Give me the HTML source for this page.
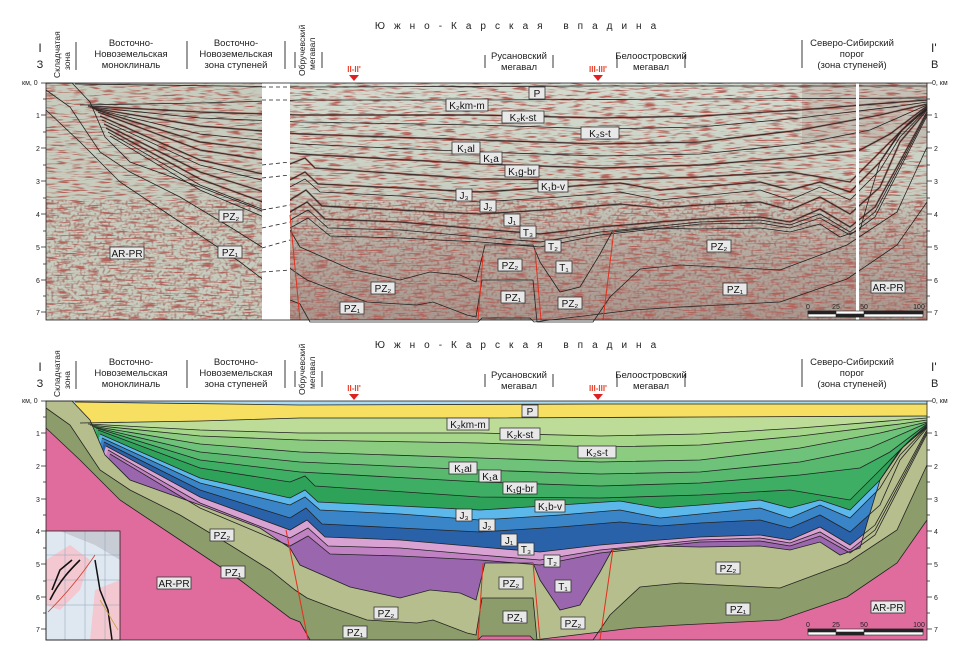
<!DOCTYPE html>
<html><head><meta charset="utf-8"><style>
html,body{margin:0;padding:0;background:#fff;}
svg{display:block;font-family:"Liberation Sans",sans-serif;}
.h{font-size:10.5px;fill:#222;text-anchor:middle;}
.t{font-size:9.5px;fill:#222;}
.ax{font-size:7px;fill:#222;}
.lb rect{fill:#e8e8e8;stroke:#333;stroke-width:0.8;}
.lb text{font-size:10px;fill:#111;text-anchor:middle;}
.bl{fill:none;stroke:#222;stroke-width:0.8;}
</style></head><body>
<svg width="964" height="648" viewBox="0 0 964 648" xmlns="http://www.w3.org/2000/svg">
<defs>
<filter id="noise" x="0" y="0" width="100%" height="100%">
<feTurbulence type="fractalNoise" baseFrequency="0.07 0.6" numOctaves="2" seed="4"/>
<feColorMatrix values="0 0 0 0 0.45  0 0 0 0 0.12  0 0 0 0 0.1  4.5 0 0 0 -2.25"/>
</filter>
<filter id="noise2" x="0" y="0" width="100%" height="100%">
<feTurbulence type="fractalNoise" baseFrequency="0.35 0.35" numOctaves="1" seed="9"/>
<feColorMatrix values="0 0 0 0 0.35  0 0 0 0 0.15  0 0 0 0 0.13  4 0 0 0 -2"/>
</filter>
<linearGradient id="sg" x1="0" y1="0" x2="0" y2="1">
<stop offset="0" stop-color="#d3dbd0"/><stop offset="0.45" stop-color="#c8cfc2"/><stop offset="0.7" stop-color="#b4aca2"/><stop offset="1" stop-color="#a8988f"/>
</linearGradient>
<path id="bP" d="M75,402 L300,405 L600,404 L927,404"/>
<path id="bKM" d="M80,423 L200,421 L300,418 L480,418 L700,417 L927,416"/>
<path id="bKST" d="M88,424 L200,430 L300,433 L480,433 L600,436 L700,434 L800,428 L900,420 L927,418"/>
<path id="bST" d="M90,425 L200,436 L300,440 L480,443 L600,447 L700,445 L800,436 L900,424 L927,420"/>
<path id="bAL" d="M92,426 L200,444 L300,452 L480,458 L600,462 L700,460 L800,448 L880,433 L927,422"/>
<path id="bA" d="M94,427 L200,452 L300,462 L480,470 L600,474 L700,472 L800,462 L870,448 L927,423"/>
<path id="bGBR" d="M96,428 L200,460 L300,472 L480,482 L600,486 L700,483 L800,475 L860,468 L890,452 L927,424"/>
<path id="bBV" d="M98,430 L200,468 L290,482 L305,476 L315,486 L480,497 L600,498 L700,495 L790,490 L850,500 L880,470 L910,440 L927,425"/>
<path id="bJ3" d="M100,434 L200,478 L290,498 L305,490 L318,502 L400,506 L480,510 L560,505 L620,501 L660,508 L700,505 L760,500 L790,508 L820,500 L850,510 L880,480 L900,450 L927,426"/>
<path id="bJ2" d="M102,438 L200,483 L290,505 L305,497 L320,510 L400,514 L480,520 L560,515 L620,510 L660,518 L700,514 L760,508 L790,518 L820,505 L850,518 L880,488 L900,455 L927,427"/>
<path id="bJ1" d="M104,442 L200,490 L290,518 L306,508 L322,524 L400,528 L480,532 L560,527 L620,522 L660,526 L700,523 L760,520 L790,528 L820,515 L850,532 L880,505 L900,460 L927,428"/>
<path id="bT3" d="M106,446 L200,497 L290,530 L307,520 L325,537 L400,540 L480,547 L540,552 L600,545 L660,540 L700,537 L760,535 L790,540 L820,527 L850,545 L875,525 L927,430"/>
<path id="bT2" d="M108,450 L200,503 L290,538 L308,528 L328,546 L400,548 L480,555 L540,560 L600,550 L700,540 L760,538 L790,543 L820,532 L850,550 L875,530 L927,432"/>
<path id="bT1" d="M110,454 L200,508 L290,546 L308,536 L330,554 L400,556 L480,560 L540,565 L600,553 L700,542 L760,541 L790,546 L820,536 L850,553 L875,535 L927,434"/>
<path id="bPZ2" d="M46,401 L72,401 L90,420 L105,455 L130,480 L200,505 L260,528 L290,548 L300,565 L350,587 L400,598 L430,590 L460,593 L476,600 L485,563 L533,563 L540,580 L560,610 L580,605 L600,572 L612,550 L650,546 L700,547 L760,546 L790,550 L820,542 L840,555 L860,548 L867,523 L880,480 L903,447 L927,427"/>
<path id="bPZ1" d="M46,408 L70,425 L100,470 L130,490 L180,515 L230,545 L270,570 L295,590 L307,598 L333,608 L367,620 L417,623 L433,620 L467,633 L476,635 L482,598 L533,598 L537,640 L593,640 L610,615 L640,587 L680,583 L780,588 L847,563 L897,530 L927,465"/>
<path id="bAR" d="M46,428 L80,460 L120,500 L180,540 L240,580 L290,618 L300,622 L310,640 L478,640 L482,636 L530,636 L534,640 L633,628 L680,625 L780,620 L847,597 L897,563 L927,520"/>
</defs>

<!-- ===== UPPER PANEL ===== -->
<g>
<text x="520" y="29" class="h" style="letter-spacing:9px;font-size:10px">Южно-Карская впадина</text>
<g class="t">
<text x="40" y="52" text-anchor="middle" style="font-size:12px">I</text>
<text x="40" y="68" text-anchor="middle" style="font-size:11px">З</text>
<text transform="translate(60,78) rotate(-90)" style="font-size:8.5px">Складчатая</text>
<text transform="translate(70,70) rotate(-90)" style="font-size:8.5px">зона</text>
<text x="131" y="46" text-anchor="middle">Восточно-</text>
<text x="131" y="57" text-anchor="middle">Новоземельская</text>
<text x="131" y="68" text-anchor="middle">моноклиналь</text>
<text x="236" y="46" text-anchor="middle">Восточно-</text>
<text x="236" y="57" text-anchor="middle">Новоземельская</text>
<text x="236" y="68" text-anchor="middle">зона ступеней</text>
<text transform="translate(305,76) rotate(-90)" style="font-size:8.5px">Обручевский</text>
<text transform="translate(315,70) rotate(-90)" style="font-size:8.5px">мегавал</text>
<text x="519" y="59" text-anchor="middle">Русановский</text>
<text x="519" y="70" text-anchor="middle">мегавал</text>
<text x="651" y="59" text-anchor="middle">Белоостровский</text>
<text x="651" y="70" text-anchor="middle">мегавал</text>
<text x="852" y="46" text-anchor="middle">Северо-Сибирский</text>
<text x="852" y="57" text-anchor="middle">порог</text>
<text x="852" y="68" text-anchor="middle">(зона ступеней)</text>
<text x="931" y="52" style="font-size:12px">I'</text>
<text x="931" y="68" style="font-size:11px">В</text>
</g>
<g stroke="#222" stroke-width="0.9">
<line x1="76" y1="42" x2="76" y2="70"/><line x1="187" y1="41" x2="187" y2="69"/><line x1="285" y1="41" x2="285" y2="69"/>
<line x1="295" y1="52" x2="295" y2="68"/><line x1="322" y1="52" x2="322" y2="68"/>
<line x1="485" y1="55" x2="485" y2="68"/><line x1="553" y1="55" x2="553" y2="68"/>
<line x1="617" y1="55" x2="617" y2="68"/><line x1="685" y1="55" x2="685" y2="68"/><line x1="802" y1="40" x2="802" y2="68"/>
</g>
<text x="354" y="72" style="font-size:8px;fill:#e8402a;font-weight:bold" text-anchor="middle">II-II'</text>
<polygon points="349,75 359,75 354,81" fill="#e02020"/>
<text x="598" y="72" style="font-size:8px;fill:#e8402a;font-weight:bold" text-anchor="middle">III-III'</text>
<polygon points="593,75 603,75 598,81" fill="#e02020"/>

<rect x="46" y="83" width="881" height="237" fill="url(#sg)"/>
<rect x="46" y="83" width="216" height="237" fill="#c6ccbe"/>
<rect x="46" y="83" width="881" height="237" filter="url(#noise)"/>
<rect x="46" y="200" width="881" height="120" filter="url(#noise2)" opacity="0.8"/>
<rect x="802" y="83" width="125" height="60" fill="#a07870" opacity="0.25"/>
<g transform="translate(0,-318)" opacity="0.5" stroke="#7a2a22" stroke-width="2" fill="none">
<use href="#bKST"/><use href="#bAL"/><use href="#bGBR"/><use href="#bBV"/><use href="#bJ3"/><use href="#bJ1"/><use href="#bT3"/>
</g>
<g transform="translate(0,-318)" class="bl">
<use href="#bP"/><use href="#bKM"/><use href="#bKST"/><use href="#bST"/><use href="#bAL"/><use href="#bA"/><use href="#bGBR"/><use href="#bBV"/><use href="#bJ3"/><use href="#bJ2"/><use href="#bJ1"/><use href="#bT3"/><use href="#bT2"/><use href="#bT1"/><use href="#bPZ2"/><use href="#bPZ1"/><use href="#bAR"/>
</g>
<rect x="262" y="83" width="28" height="237" fill="#fff"/>
<rect x="856" y="83" width="3" height="237" fill="#fff"/>
<g stroke="#222" stroke-width="0.8" stroke-dasharray="4,3">
<line x1="262" y1="87" x2="290" y2="87"/><line x1="262" y1="100" x2="290" y2="100"/>
<line x1="262" y1="165" x2="290" y2="162"/><line x1="262" y1="178" x2="290" y2="175"/>
<line x1="262" y1="210" x2="290" y2="205"/><line x1="262" y1="228" x2="290" y2="222"/>
<line x1="262" y1="248" x2="290" y2="240"/><line x1="262" y1="272" x2="290" y2="270"/>
</g>
<g stroke="#e0301e" stroke-width="1">
<line x1="290" y1="215" x2="300" y2="320"/><line x1="483" y1="255" x2="478" y2="320"/>
<line x1="535" y1="250" x2="541" y2="320"/><line x1="614" y1="230" x2="603" y2="320"/>
</g>
<rect x="46" y="83" width="881" height="237" fill="none" stroke="#222" stroke-width="0.8"/>
<g class="lb">
<rect x="529" y="87" width="16" height="12"/><text x="537" y="97">P</text>
<rect x="446" y="99" width="42" height="12"/><text x="467" y="109">K₂km-m</text>
<rect x="502" y="111" width="42" height="12"/><text x="523" y="121">K₂k-st</text>
<rect x="581" y="127" width="38" height="12"/><text x="600" y="137">K₂s-t</text>
<rect x="452" y="142" width="28" height="12"/><text x="466" y="152">K₁al</text>
<rect x="480" y="152" width="22" height="12"/><text x="491" y="162">K₁a</text>
<rect x="505" y="165" width="34" height="12"/><text x="522" y="175">K₁g-br</text>
<rect x="538" y="180" width="30" height="12"/><text x="553" y="190">K₁b-v</text>
<rect x="456" y="189" width="16" height="12"/><text x="464" y="199">J₃</text>
<rect x="480" y="200" width="16" height="12"/><text x="488" y="210">J₂</text>
<rect x="504" y="214" width="16" height="12"/><text x="512" y="224">J₁</text>
<rect x="520" y="226" width="16" height="12"/><text x="528" y="236">T₃</text>
<rect x="545" y="240" width="16" height="12"/><text x="553" y="250">T₂</text>
<rect x="556" y="261" width="16" height="12"/><text x="564" y="271">T₁</text>
<rect x="498" y="259" width="24" height="12"/><text x="510" y="269">PZ₂</text>
<rect x="501" y="291" width="24" height="12"/><text x="513" y="301">PZ₁</text>
<rect x="558" y="297" width="24" height="12"/><text x="570" y="307">PZ₂</text>
<rect x="371" y="282" width="24" height="12"/><text x="383" y="292">PZ₂</text>
<rect x="340" y="302" width="24" height="12"/><text x="352" y="312">PZ₁</text>
<rect x="219" y="210" width="24" height="12"/><text x="231" y="220">PZ₂</text>
<rect x="218" y="246" width="24" height="12"/><text x="230" y="256">PZ₁</text>
<rect x="110" y="247" width="34" height="12"/><text x="127" y="257">AR-PR</text>
<rect x="707" y="240" width="24" height="12"/><text x="719" y="250">PZ₂</text>
<rect x="723" y="283" width="24" height="12"/><text x="735" y="293">PZ₁</text>
<rect x="871" y="281" width="34" height="12"/><text x="888" y="291">AR-PR</text>
</g>
<g fill="#fff" stroke="#222" stroke-width="0.6">
<rect x="808" y="311" width="115" height="6"/><rect x="808" y="311" width="28" height="3" fill="#222"/><rect x="836" y="314" width="28" height="3" fill="#222"/><rect x="864" y="311" width="59" height="3" fill="#222"/>
</g>
<g class="ax"><text x="836" y="309" text-anchor="middle">25</text><text x="864" y="309" text-anchor="middle">50</text><text x="919" y="309" text-anchor="middle">100</text><text x="808" y="309" text-anchor="middle">0</text></g>
</g>

<!-- axes -->
<g class="ax">
<text x="22" y="85">км, 0</text><text x="932" y="85">0, км</text>
<text x="36" y="118">1</text><text x="36" y="151">2</text><text x="36" y="184">3</text><text x="36" y="217">4</text><text x="36" y="250">5</text><text x="36" y="283">6</text><text x="36" y="315">7</text>
<text x="934" y="118">1</text><text x="934" y="151">2</text><text x="934" y="184">3</text><text x="934" y="217">4</text><text x="934" y="250">5</text><text x="934" y="283">6</text><text x="934" y="315">7</text>
<text x="22" y="403">км, 0</text><text x="932" y="403">0, км</text>
<text x="36" y="436">1</text><text x="36" y="469">2</text><text x="36" y="502">3</text><text x="36" y="534">4</text><text x="36" y="567">5</text><text x="36" y="600">6</text><text x="36" y="632">7</text>
<text x="934" y="436">1</text><text x="934" y="469">2</text><text x="934" y="502">3</text><text x="934" y="534">4</text><text x="934" y="567">5</text><text x="934" y="600">6</text><text x="934" y="632">7</text>
</g>
<g stroke="#222" stroke-width="0.8">
<path d="M41,83h5M41,115h5M41,148h5M41,181h5M41,214h5M41,247h5M41,280h5M41,312h5M43,99h3M43,132h3M43,165h3M43,198h3M43,231h3M43,264h3M43,296h3"/>
<path d="M927,83h5M927,115h5M927,148h5M927,181h5M927,214h5M927,247h5M927,280h5M927,312h5M927,99h3M927,132h3M927,165h3M927,198h3M927,231h3M927,264h3M927,296h3"/>
<path d="M41,401h5M41,433h5M41,466h5M41,499h5M41,531h5M41,564h5M41,597h5M41,629h5M43,417h3M43,450h3M43,482h3M43,515h3M43,548h3M43,581h3M43,613h3"/>
<path d="M927,401h5M927,433h5M927,466h5M927,499h5M927,531h5M927,564h5M927,597h5M927,629h5M927,417h3M927,450h3M927,482h3M927,515h3M927,548h3M927,581h3M927,613h3"/>
</g>

<!-- ===== LOWER PANEL ===== -->
<g transform="translate(0,319)">
<text x="520" y="29" class="h" style="letter-spacing:9px;font-size:10px">Южно-Карская впадина</text>
<g class="t">
<text x="40" y="52" text-anchor="middle" style="font-size:12px">I</text>
<text x="40" y="68" text-anchor="middle" style="font-size:11px">З</text>
<text transform="translate(60,78) rotate(-90)" style="font-size:8.5px">Складчатая</text>
<text transform="translate(70,70) rotate(-90)" style="font-size:8.5px">зона</text>
<text x="131" y="46" text-anchor="middle">Восточно-</text>
<text x="131" y="57" text-anchor="middle">Новоземельская</text>
<text x="131" y="68" text-anchor="middle">моноклиналь</text>
<text x="236" y="46" text-anchor="middle">Восточно-</text>
<text x="236" y="57" text-anchor="middle">Новоземельская</text>
<text x="236" y="68" text-anchor="middle">зона ступеней</text>
<text transform="translate(305,76) rotate(-90)" style="font-size:8.5px">Обручевский</text>
<text transform="translate(315,70) rotate(-90)" style="font-size:8.5px">мегавал</text>
<text x="519" y="59" text-anchor="middle">Русановский</text>
<text x="519" y="70" text-anchor="middle">мегавал</text>
<text x="651" y="59" text-anchor="middle">Белоостровский</text>
<text x="651" y="70" text-anchor="middle">мегавал</text>
<text x="852" y="46" text-anchor="middle">Северо-Сибирский</text>
<text x="852" y="57" text-anchor="middle">порог</text>
<text x="852" y="68" text-anchor="middle">(зона ступеней)</text>
<text x="931" y="52" style="font-size:12px">I'</text>
<text x="931" y="68" style="font-size:11px">В</text>
</g>
<g stroke="#222" stroke-width="0.9">
<line x1="76" y1="42" x2="76" y2="70"/><line x1="187" y1="41" x2="187" y2="69"/><line x1="285" y1="41" x2="285" y2="69"/>
<line x1="295" y1="52" x2="295" y2="68"/><line x1="322" y1="52" x2="322" y2="68"/>
<line x1="485" y1="55" x2="485" y2="68"/><line x1="553" y1="55" x2="553" y2="68"/>
<line x1="617" y1="55" x2="617" y2="68"/><line x1="685" y1="55" x2="685" y2="68"/><line x1="802" y1="40" x2="802" y2="68"/>
</g>
<text x="354" y="72" style="font-size:8px;fill:#e8402a;font-weight:bold" text-anchor="middle">II-II'</text>
<polygon points="349,75 359,75 354,81" fill="#e02020"/>
<text x="598" y="72" style="font-size:8px;fill:#e8402a;font-weight:bold" text-anchor="middle">III-III'</text>
<polygon points="593,75 603,75 598,81" fill="#e02020"/>
</g>

<rect x="46" y="401" width="881" height="239" fill="#a8daf2"/>
<g stroke="none">
<path fill="#f7df62" d="M46,640 L75,402 L300,405 L600,404 L927,404 L927,640Z"/>
<path fill="#bcdc98" d="M46,640 L80,423 L200,421 L300,418 L480,418 L700,417 L927,416 L927,640Z"/>
<path fill="#a6d68a" d="M46,640 L88,424 L200,430 L300,433 L480,433 L600,436 L700,434 L800,428 L900,420 L927,418 L927,640Z"/>
<path fill="#8ccc80" d="M46,640 L90,425 L200,436 L300,440 L480,443 L600,447 L700,445 L800,436 L900,424 L927,420 L927,640Z"/>
<path fill="#6fc27a" d="M46,640 L92,426 L200,444 L300,452 L480,458 L600,462 L700,460 L800,448 L880,433 L927,422 L927,640Z"/>
<path fill="#57b86e" d="M46,640 L94,427 L200,452 L300,462 L480,470 L600,474 L700,472 L800,462 L870,448 L927,423 L927,640Z"/>
<path fill="#3eae64" d="M46,640 L96,428 L200,460 L300,472 L480,482 L600,486 L700,483 L800,475 L860,468 L890,452 L927,424 L927,640Z"/>
<path fill="#2fa25a" d="M46,640 L98,430 L200,468 L290,482 L305,476 L315,486 L480,497 L600,498 L700,495 L790,490 L850,500 L880,470 L910,440 L927,425 L927,640Z"/>
<path fill="#5cb8ea" d="M46,640 L100,434 L200,478 L290,498 L305,490 L318,502 L400,506 L480,510 L560,505 L620,501 L660,508 L700,505 L760,500 L790,508 L820,500 L850,510 L880,480 L900,450 L927,426 L927,640Z"/>
<path fill="#3a84c8" d="M46,640 L102,438 L200,483 L290,505 L305,497 L320,510 L400,514 L480,520 L560,515 L620,510 L660,518 L700,514 L760,508 L790,518 L820,505 L850,518 L880,488 L900,455 L927,427 L927,640Z"/>
<path fill="#2a62aa" d="M46,640 L104,442 L200,490 L290,518 L306,508 L322,524 L400,528 L480,532 L560,527 L620,522 L660,526 L700,523 L760,520 L790,528 L820,515 L850,532 L880,505 L900,460 L927,428 L927,640Z"/>
<path fill="#d8a2d2" d="M46,640 L106,446 L200,497 L290,530 L307,520 L325,537 L400,540 L480,547 L540,552 L600,545 L660,540 L700,537 L760,535 L790,540 L820,527 L850,545 L875,525 L927,430 L927,640Z"/>
<path fill="#c082c2" d="M46,640 L108,450 L200,503 L290,538 L308,528 L328,546 L400,548 L480,555 L540,560 L600,550 L700,540 L760,538 L790,543 L820,532 L850,550 L875,530 L927,432 L927,640Z"/>
<path fill="#9a66ae" d="M46,640 L110,454 L200,508 L290,546 L308,536 L330,554 L400,556 L480,560 L540,565 L600,553 L700,542 L760,541 L790,546 L820,536 L850,553 L875,535 L927,434 L927,640Z"/>
<path fill="#b6be8e" d="M46,640 L46,401 L72,401 L90,420 L105,455 L130,480 L200,505 L260,528 L290,548 L300,565 L350,587 L400,598 L430,590 L460,593 L476,600 L485,563 L533,563 L540,580 L560,610 L580,605 L600,572 L612,550 L650,546 L700,547 L760,546 L790,550 L820,542 L840,555 L860,548 L867,523 L880,480 L903,447 L927,427 L927,640Z"/>
<path fill="#8c9c6a" d="M46,640 L46,408 L70,425 L100,470 L130,490 L180,515 L230,545 L270,570 L295,590 L307,598 L333,608 L367,620 L417,623 L433,620 L467,633 L476,635 L482,598 L533,598 L537,640 L593,640 L610,615 L640,587 L680,583 L780,588 L847,563 L897,530 L927,465 L927,640Z"/>
<path fill="#e06c9e" d="M46,640 L46,428 L80,460 L120,500 L180,540 L240,580 L290,618 L300,622 L310,640 L478,640 L482,636 L530,636 L534,640 L633,628 L680,625 L780,620 L847,597 L897,563 L927,520 L927,640Z"/>
</g>
<g class="bl" stroke-width="0.7">
<use href="#bP"/><use href="#bKM"/><use href="#bKST"/><use href="#bST"/><use href="#bAL"/><use href="#bA"/><use href="#bGBR"/><use href="#bBV"/><use href="#bJ3"/><use href="#bJ2"/><use href="#bJ1"/><use href="#bT3"/><use href="#bT2"/><use href="#bT1"/><use href="#bPZ2"/><use href="#bPZ1"/><use href="#bAR"/>
</g>
<g stroke="#e0301e" stroke-width="1">
<line x1="286" y1="530" x2="308" y2="640"/><line x1="483" y1="563" x2="478" y2="640"/>
<line x1="533" y1="563" x2="540" y2="640"/><line x1="613" y1="549" x2="600" y2="640"/>
</g>
<!-- inset map -->
<g>
<rect x="46" y="531" width="74" height="109" fill="#dfe8f0"/>
<path d="M46,560 L70,545 L90,560 L80,590 L60,610 L46,605Z" fill="#f4c8d0"/>
<path d="M95,590 L120,580 L120,640 L90,640Z" fill="#f4c8d0"/>
<path d="M60,531 L120,531 L120,560 L95,545Z" fill="#c8ccd4"/>
<g stroke="#8aa0b8" stroke-width="0.5" fill="none"><path d="M46,555h74M46,580h74M46,605h74M65,531v109M85,531v109M105,531v109"/></g>
<path d="M50,600 C60,580 70,570 80,560 M52,590 L60,570 L72,560" stroke="#111" stroke-width="1.6" fill="none"/>
<path d="M95,560 L100,590 L108,610 L112,640" stroke="#111" stroke-width="1.5" fill="none"/>
<path d="M48,612 C70,590 85,570 95,555" stroke="#d04030" stroke-width="0.8" fill="none"/>
<path d="M100,600 L118,630" stroke="#c8a040" stroke-width="0.8" fill="none"/>
<rect x="46" y="531" width="74" height="109" fill="none" stroke="#222" stroke-width="0.8"/>
</g>
<rect x="46" y="401" width="881" height="239" fill="none" stroke="#222" stroke-width="0.8"/>
<g class="lb">
<rect x="522" y="405" width="16" height="12"/><text x="530" y="415">P</text>
<rect x="447" y="418" width="42" height="12"/><text x="468" y="428">K₂km-m</text>
<rect x="500" y="428" width="40" height="12"/><text x="520" y="438">K₂k-st</text>
<rect x="578" y="446" width="38" height="12"/><text x="597" y="456">K₂s-t</text>
<rect x="449" y="462" width="28" height="12"/><text x="463" y="472">K₁al</text>
<rect x="479" y="470" width="22" height="12"/><text x="490" y="480">K₁a</text>
<rect x="503" y="482" width="34" height="12"/><text x="520" y="492">K₁g-br</text>
<rect x="535" y="500" width="30" height="12"/><text x="550" y="510">K₁b-v</text>
<rect x="456" y="509" width="16" height="12"/><text x="464" y="519">J₃</text>
<rect x="479" y="519" width="16" height="12"/><text x="487" y="529">J₂</text>
<rect x="501" y="534" width="16" height="12"/><text x="509" y="544">J₁</text>
<rect x="518" y="543" width="16" height="12"/><text x="526" y="553">T₃</text>
<rect x="544" y="555" width="16" height="12"/><text x="552" y="565">T₂</text>
<rect x="555" y="580" width="16" height="12"/><text x="563" y="590">T₁</text>
<rect x="210" y="529" width="24" height="12"/><text x="222" y="539">PZ₂</text>
<rect x="221" y="566" width="24" height="12"/><text x="233" y="576">PZ₁</text>
<rect x="157" y="577" width="34" height="12"/><text x="174" y="587">AR-PR</text>
<rect x="374" y="607" width="24" height="12"/><text x="386" y="617">PZ₂</text>
<rect x="343" y="626" width="24" height="12"/><text x="355" y="636">PZ₁</text>
<rect x="499" y="577" width="24" height="12"/><text x="511" y="587">PZ₂</text>
<rect x="503" y="611" width="24" height="12"/><text x="515" y="621">PZ₁</text>
<rect x="561" y="617" width="24" height="12"/><text x="573" y="627">PZ₂</text>
<rect x="716" y="562" width="24" height="12"/><text x="728" y="572">PZ₂</text>
<rect x="726" y="603" width="24" height="12"/><text x="738" y="613">PZ₁</text>
<rect x="871" y="601" width="34" height="12"/><text x="888" y="611">AR-PR</text>
</g>
<g fill="#fff" stroke="#222" stroke-width="0.6">
<rect x="808" y="629" width="115" height="6"/><rect x="808" y="629" width="28" height="3" fill="#222"/><rect x="836" y="632" width="28" height="3" fill="#222"/><rect x="864" y="629" width="59" height="3" fill="#222"/>
</g>
<g class="ax"><text x="808" y="627" text-anchor="middle">0</text><text x="836" y="627" text-anchor="middle">25</text><text x="864" y="627" text-anchor="middle">50</text><text x="919" y="627" text-anchor="middle">100</text></g>
</svg>
</body></html>
